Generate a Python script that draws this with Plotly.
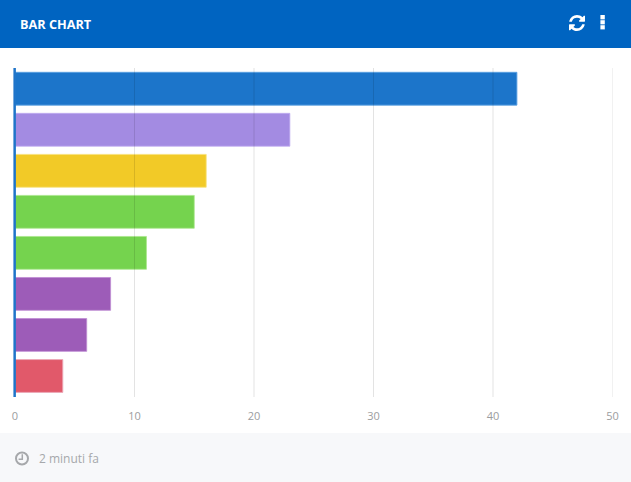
import re
import plotly.graph_objects as go

categories = ["A", "B", "C", "D", "E", "F", "G", "H"]
values = [42, 23, 16, 15, 11, 8, 6, 4]
fill_colors = ["rgba(0,100,195,0.89)", "rgba(149,122,222,0.87)", "rgba(241,196,15,0.9)",
               "rgba(97,204,52,0.87)", "rgba(97,204,52,0.87)", "rgba(142,68,173,0.87)",
               "rgba(142,68,173,0.87)", "rgba(220,64,84,0.87)"]
line_colors = ["rgba(90,160,225,0.9)", "rgba(190,170,240,0.8)", "rgba(248,225,120,0.8)",
               "rgba(170,230,140,0.8)", "rgba(170,230,140,0.8)", "rgba(190,140,210,0.8)",
               "rgba(190,140,210,0.8)", "rgba(235,170,185,0.9)"]
x_ticks = [0, 10, 20, 30, 40, 50]
title_text = "BAR CHART"
footer_text = "2 minuti fa"

W, H = 631, 482
PX = lambda v: v / W
PY = lambda v: 1 - v / H

SYNC = ("M1511 928q0 5-1 7-64 268-268 434.5t-478 166.5q-146 0-282.5-55t-243.5-157l-129 129q-19 19-45 19t-45-19-19-45"
        "v-448q0-26 19-45t45-19h448q26 0 45 19t19 45-19 45l-137 137q71 66 161 102t187 36q134 0 250-65t186-179q11-17 53-117"
        " 8-23 30-23h192q13 0 22.5 9.5t9.5 22.5zm25-800v448q0 26-19 45t-45 19h-448q-26 0-45-19t-19-45 19-45l138-138"
        "q-148-137-349-137-134 0-250 65t-186 179q-11 17-53 117-8 23-30 23h-199q-13 0-22.5-9.5t-9.5-22.5v-7"
        "q65-268 270-434.5t480-166.5q146 0 284 55.5t245 156.5l130-129q19-19 45-19t45 19 19 45z")


def icon_path(d, x0, y0, x1, y1):
    toks = re.findall(r"[a-zA-Z]|-?\d*\.?\d+", d)
    i, cx, cy, sx, sy = 0, 0.0, 0.0, 0.0, 0.0
    cmd, lastq = None, None
    segs = []
    nargs = dict(m=2, l=2, h=1, v=1, q=4, t=2)
    while i < len(toks):
        if toks[i].isalpha():
            cmd = toks[i]
            i += 1
            if cmd == "z":
                segs.append(("Z",))
                cx, cy = sx, sy
                continue
        low = cmd.lower()
        a = [float(t) for t in toks[i:i + nargs[low]]]
        i += nargs[low]
        rel = cmd.islower()
        ox, oy = (cx, cy) if rel else (0, 0)
        if low == "m":
            cx, cy = a[0] + ox, a[1] + oy
            sx, sy = cx, cy
            segs.append(("M", cx, cy))
            cmd = "l" if rel else "L"
            lastq = None
        elif low == "l":
            cx, cy = a[0] + ox, a[1] + oy
            segs.append(("L", cx, cy))
            lastq = None
        elif low == "h":
            cx = a[0] + ox
            segs.append(("L", cx, cy))
            lastq = None
        elif low == "v":
            cy = a[0] + oy
            segs.append(("L", cx, cy))
            lastq = None
        elif low == "q":
            qx, qy = a[0] + ox, a[1] + oy
            cx, cy = a[2] + ox, a[3] + oy
            segs.append(("Q", qx, qy, cx, cy))
            lastq = (qx, qy)
        elif low == "t":
            qx, qy = (2 * cx - lastq[0], 2 * cy - lastq[1]) if lastq else (cx, cy)
            cx, cy = a[0] + ox, a[1] + oy
            segs.append(("Q", qx, qy, cx, cy))
            lastq = (qx, qy)
    xs = [v for s in segs for v in s[1::2]]
    ys = [v for s in segs for v in s[2::2]]
    bx0, bx1, by0, by1 = min(xs), max(xs), min(ys), max(ys)
    fx = lambda v: PX(x0 + (v - bx0) / (bx1 - bx0) * (x1 - x0))
    fy = lambda v: PY(y0 + (v - by0) / (by1 - by0) * (y1 - y0))
    out = []
    for s in segs:
        out.append(s[0])
        pts = s[1:]
        out.append(" ".join(f"{fx(pts[j]):.5f},{fy(pts[j + 1]):.5f}" for j in range(0, len(pts), 2)))
    return " ".join(out)


def rect(x0, y0, x1, y1, color, layer="below"):
    return dict(type="rect", xref="paper", yref="paper", x0=PX(x0), x1=PX(x1), y0=PY(y0), y1=PY(y1),
                fillcolor=color, line_width=0, layer=layer)


GRAY = "#a6a8ab"
shapes = [
    rect(0, 0, W, 48, "#0064c1"),
    rect(0, 433, W, H, "#f7f8fa"),
    dict(type="path", xref="paper", yref="paper", path=icon_path(SYNC, 569, 15, 585, 31),
         fillcolor="white", line_width=0, layer="above"),
    rect(600.4, 15, 604.8, 19.4, "white", "above"),
    rect(600.4, 20.2, 604.8, 24.4, "white", "above"),
    rect(600.4, 25.2, 604.8, 29.4, "white", "above"),
    dict(type="circle", xref="paper", yref="paper", x0=PX(16), x1=PX(28), y0=PY(452.5), y1=PY(464.5),
         fillcolor="rgba(0,0,0,0)", line=dict(color=GRAY, width=2), layer="above"),
    dict(type="path", xref="paper", yref="paper",
         path=f"M {PX(22.3)},{PY(454.3)} L {PX(22.3)},{PY(459.2)} L {PX(18.6)},{PY(459.2)}",
         fillcolor="rgba(0,0,0,0)", line=dict(color=GRAY, width=1.5), layer="above"),
    # Blue baseline at value 0, in paper coordinates so that it is not clipped by the plot area.
    rect(13.4, 68, 15.9, 397, "#1f74c9", "above"),
]
# Grid lines sit over the bars in the reference, so they are drawn above the traces.
for t in x_ticks[1:]:
    shapes.append(dict(type="line", xref="x", yref="paper", x0=t, x1=t, y0=PY(397), y1=PY(68),
                       line=dict(color="rgba(0,0,0,0.11)", width=1), layer="above"))

fig = go.Figure(go.Bar(
    y=categories, x=values, orientation="h",
    marker=dict(color=fill_colors, line=dict(color=line_colors, width=1)),
    hoverinfo="x+y",
))
fig.update_layout(
    width=W, height=H, showlegend=False, bargap=0.2,
    paper_bgcolor="white", plot_bgcolor="white",
    margin=dict(l=0, r=0, t=0, b=0),
    font=dict(family="Open Sans", size=11, color="#9b9da0"),
    shapes=shapes,
    annotations=[
        dict(text=f"<b>{title_text}</b>", xref="paper", yref="paper", x=PX(18), y=PY(23.5),
             xanchor="left", yanchor="middle", showarrow=False,
             font=dict(family="Open Sans", size=12.7, color="white")),
        dict(text=footer_text, xref="paper", yref="paper", x=PX(37), y=PY(458.5),
             xanchor="left", yanchor="middle", showarrow=False,
             font=dict(family="Open Sans", size=12, color="#a6a8ab")),
    ],
    xaxis=dict(domain=[PX(15), PX(612.5)], range=[0, 50], tickvals=x_ticks,
               showgrid=False, zeroline=False,
               showline=False, ticks="", automargin=False, ticklabelstandoff=11,
               tickfont=dict(family="Open Sans", size=11, color="#9b9da0")),
    yaxis=dict(domain=[PY(396.5), PY(68.2)], autorange="reversed", showticklabels=False,
               ticks="", showgrid=False, zeroline=False, showline=False, automargin=False),
)
fig.write_html("out.html", config=dict(displayModeBar=False),
               post_script="document.body.style.margin='0';document.body.style.overflow='hidden';")
